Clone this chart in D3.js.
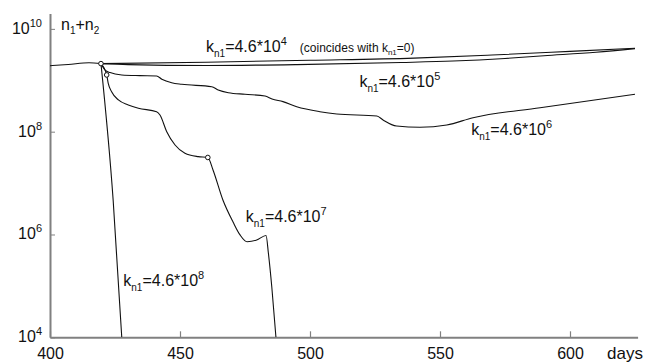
<!DOCTYPE html>
<html>
<head>
<meta charset="utf-8">
<script src="https://cdn.jsdelivr.net/npm/d3@7"></script>
<style>
  body { margin: 0; background: #fff; }
  svg { display: block; font-family: "Liberation Sans", Arial, sans-serif; }
</style>
</head>
<body>
<svg id="chart" width="648" height="362"></svg>
<script>
// n1+n2 before the first dose (day, count)
var pretreat = [[400, 1.92e9], [407, 2.03e9], [415, 2.2e9], [419.6, 2.11e9]];

// one curve per k_n1 value, starting at the first dose
var k4 = [[419.6, 2.11e9], [460, 2.25e9], [500, 2.45e9], [540, 2.7e9], [570, 3.1e9], [600, 3.65e9], [625, 4.2e9]];
var k5 = [[419.6, 2.11e9], [430, 2.02e9], [460, 1.94e9], [495, 2.02e9], [535, 2.22e9], [555, 2.37e9],
          [575, 2.66e9], [590, 3.0e9], [610, 3.5e9], [625, 4.12e9]];
var k6 = [[419.6, 2.11e9], [421.2, 1.58e9], [423.1, 1.41e9], [427.6, 1.27e9], [434.6, 1.23e9], [441, 1.21e9],
          [443, 1.05e9], [446.8, 8.98e8], [450.7, 8.36e8], [462.2, 7.51e8], [464.7, 6.48e8], [468.6, 5.74e8],
          [475, 5.34e8], [482.7, 4.95e8], [485.4, 4.33e8], [489.6, 3.84e8], [494.9, 3.06e8], [503.8, 2.45e8],
          [510.3, 2.21e8], [525.7, 2.02e8], [528.1, 1.69e8], [533.3, 1.29e8], [542.3, 1.22e8], [552.6, 1.35e8],
          [562.7, 1.87e8], [588.5, 2.93e8], [625, 5.35e8]];
var k7 = [[419.6, 2.11e9], [421.8, 1.27e9], [422.4, 8.75e8], [423.7, 6.0e8], [426.3, 4.14e8], [430.1, 3.31e8],
          [434, 2.85e8], [441, 2.45e8], [442.3, 2.11e8], [444.9, 1.0e8], [448.1, 5.5e7], [451.9, 3.8e7],
          [457, 3.27e7], [460.7, 3.15e7], [462.7, 1.8e7], [466.5, 4.69e6], [470.4, 1.75e6], [473.1, 9.8e5],
          [475.8, 7.24e5], [479.5, 7.8e5], [483.1, 9.57e5], [484, 4.31e5], [485.3, 9.6e4], [486.9, 1e4]];
var k8 = [[419.6, 2.11e9], [424.3, 4.6e6], [427.6, 1e4]];

// dose markers (day, count)
var doses = [[419.6, 2.11e9], [421.8, 1.27e9], [460.7, 3.15e7]];

var xMajor = [400, 450, 500, 550, 600];
var yMajor = [4, 6, 8, 10];

var labels = [
  {day: 460, n: 3.56e9, exp: "4", note: true},
  {day: 519, n: 7.4e8, exp: "5"},
  {day: 562, n: 8.6e7, exp: "6"},
  {day: 475.3, n: 1.77e6, exp: "7"},
  {day: 428.2, n: 1.0e5, exp: "8"}
];

var svg = d3.select("#chart"),
    x = d3.scaleLinear().domain([400, 626]).range([50, 637.6]),
    y = d3.scaleLog().domain([1e4, 2e10]).range([337.3, 13.4]);

var axisColor = "#808080";

// x axis
var gx = svg.append("g").attr("transform", "translate(0," + y(1e4) + ")");
gx.call(d3.axisBottom(x).tickValues(d3.range(410, 626, 10).filter(function(d) { return d % 50; }))
    .tickSizeInner(-3).tickSizeOuter(0).tickFormat(""));
gx.call(d3.axisBottom(x).tickValues(xMajor).tickSizeInner(-6).tickSizeOuter(0).tickPadding(10));
gx.selectAll(".domain").attr("stroke", axisColor).attr("stroke-width", 2);
gx.selectAll(".tick line").attr("stroke", axisColor).attr("stroke-width", 1.2);
gx.selectAll(".tick text").attr("font-size", 16).attr("fill", "#111")
  .attr("font-family", "Liberation Sans, Arial, sans-serif");

// y axis
var minor = [];
for (var e = 4; e < 10; e++) for (var m = 2; m <= 10; m++) minor.push(m * Math.pow(10, e));
var gy = svg.append("g").attr("transform", "translate(" + x(400) + ",0)");
gy.call(d3.axisLeft(y).tickValues(minor).tickSizeInner(-3).tickSizeOuter(0).tickFormat(""));
gy.call(d3.axisLeft(y).tickValues(yMajor.map(function(d) { return Math.pow(10, d); }))
    .tickSizeInner(-5).tickSizeOuter(0).tickFormat(""));
gy.selectAll(".domain").attr("stroke", axisColor).attr("stroke-width", 2);
gy.selectAll(".tick line").attr("stroke", axisColor).attr("stroke-width", 1);

var ylab = svg.append("g").attr("font-size", 16).attr("fill", "#111").attr("text-anchor", "end")
  .selectAll("text").data(yMajor).enter().append("text")
    .attr("x", 42)
    .attr("y", function(d) { return y(Math.pow(10, d)) + 5; });
ylab.append("tspan").text("10");
ylab.append("tspan").attr("dy", -7).attr("font-size", 11).text(function(d) { return d; });

// axis titles
var yt = svg.append("text").attr("x", 61).attr("y", 30).attr("font-size", 16).attr("fill", "#111");
yt.append("tspan").text("n");
yt.append("tspan").attr("dy", 4).attr("font-size", 10).text("1");
yt.append("tspan").attr("dy", -4).text("+n");
yt.append("tspan").attr("dy", 4).attr("font-size", 10).text("2");

svg.append("text").attr("x", 607).attr("y", 359).attr("font-size", 17).attr("fill", "#111").text("days");

// curves
svg.append("clipPath").attr("id", "plot").append("rect")
  .attr("x", x(400)).attr("y", y(2e10)).attr("width", x(626) - x(400)).attr("height", y(1e4) - y(2e10));

var line = d3.line()
  .x(function(d) { return x(d[0]); })
  .y(function(d) { return y(d[1]); })
  .curve(d3.curveMonotoneX);

svg.append("g").attr("clip-path", "url(#plot)")
  .selectAll("path").data([pretreat, k4, k5, k6, k7, k8]).enter().append("path")
    .attr("d", line)
    .attr("fill", "none")
    .attr("stroke", "#111")
    .attr("stroke-width", 1.1);

svg.append("g").selectAll("circle").data(doses).enter().append("circle")
  .attr("cx", function(d) { return x(d[0]); })
  .attr("cy", function(d) { return y(d[1]); })
  .attr("r", 2.3)
  .attr("fill", "#fff")
  .attr("stroke", "#111")
  .attr("stroke-width", 1);

// curve labels
labels.forEach(function(l) {
  var t = svg.append("text")
    .attr("x", x(l.day)).attr("y", y(l.n))
    .attr("font-size", 16).attr("fill", "#111");
  t.append("tspan").text("k");
  t.append("tspan").attr("dy", 5).attr("font-size", 10).text("n1");
  t.append("tspan").attr("dy", -5).text("=4.6*10");
  t.append("tspan").attr("dy", -7).attr("font-size", 11).text(l.exp);
  if (l.note) {
    t.append("tspan").attr("dy", 7).attr("dx", 13).attr("font-size", 12).text("(coincides with k");
    t.append("tspan").attr("dy", 3).attr("font-size", 8).text("n1");
    t.append("tspan").attr("dy", -3).attr("font-size", 12).text("=0)");
  }
});
</script>
</body>
</html>
